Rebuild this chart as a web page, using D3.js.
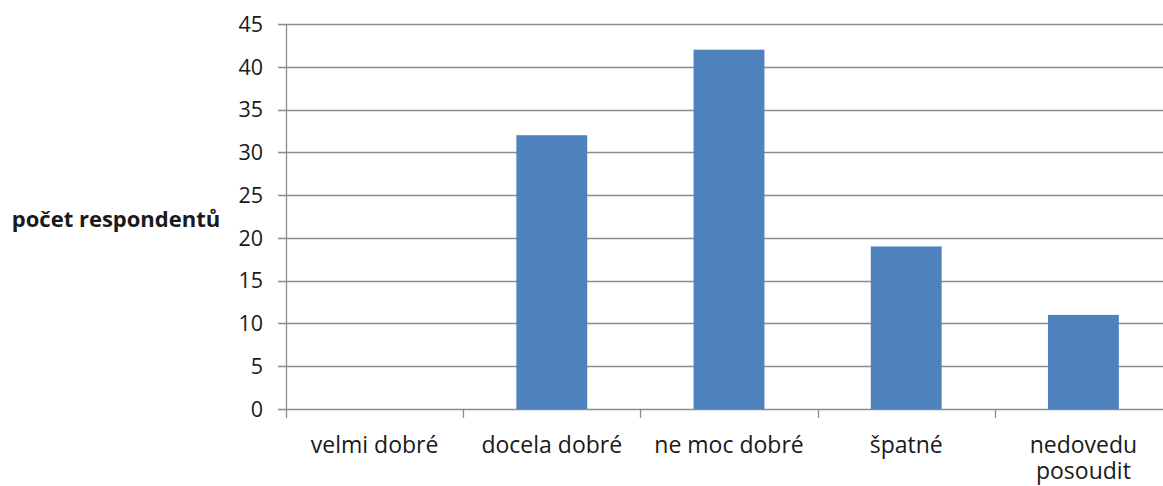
<!DOCTYPE html>
<html>
<head>
<meta charset="utf-8">
<script src="https://cdn.jsdelivr.net/npm/d3@7"></script>
<style>
  html, body { margin: 0; padding: 0; background: #fff; overflow: hidden; }
  svg { display: block; }
  text { font-family: "Open Sans", "DejaVu Sans", sans-serif; fill: #1a1a1a; }
</style>
</head>
<body>
<svg id="chart" width="1163" height="486"></svg>
<script>
const categories = ["velmi dobré", "docela dobré", "ne moc dobré", "špatné", "nedovedu posoudit"];
const values = [0, 32, 42, 19, 11];
const yTicks = [0, 5, 10, 15, 20, 25, 30, 35, 40, 45];
const yTitle = "počet respondentů";

(function () {
const svg = d3.select("#chart");
const W = 1163;
const mLeft = 286, mRight = 1172, mTop = 24, mBottom = 409;

const x = d3.scaleBand().domain(categories).range([mLeft, mRight]).paddingInner(0.6).paddingOuter(0.3);
const y = d3.scaleLinear().domain([0, 45]).range([mBottom, mTop]);

const gridColor = "#8c8c8c";

// gridlines
svg.append("g").selectAll("line").data(yTicks).join("line")
  .attr("x1", mLeft - 8).attr("x2", W)
  .attr("y1", d => Math.round(y(d)) + 0.5).attr("y2", d => Math.round(y(d)) + 0.5)
  .attr("stroke", gridColor).attr("stroke-width", 1.3);

// y labels
svg.append("g").selectAll("text").data(yTicks).join("text")
  .attr("x", 263).attr("y", d => y(d))
  .attr("dy", "0.36em")
  .attr("text-anchor", "end")
  .attr("font-size", 21.5)
  .text(d => d);

// bars
svg.append("g").selectAll("rect").data(categories).join("rect")
  .attr("x", d => x(d))
  .attr("width", x.bandwidth())
  .attr("y", (d, i) => y(values[i]))
  .attr("height", (d, i) => y(0) - y(values[i]))
  .attr("fill", "#4f81bd");

// y axis line
svg.append("line")
  .attr("x1", mLeft + 0.5).attr("x2", mLeft + 0.5)
  .attr("y1", mTop).attr("y2", mBottom + 1)
  .attr("stroke", gridColor).attr("stroke-width", 1.3);

// category ticks at band boundaries
const step = x.step();
const boundaries = categories.map(c => x(c) - step * 0.3);
boundaries.push(x(categories[categories.length - 1]) + x.bandwidth() + step * 0.3);
svg.append("g").selectAll("line").data(boundaries).join("line")
  .attr("x1", d => Math.round(d) + 0.5).attr("x2", d => Math.round(d) + 0.5)
  .attr("y1", mBottom).attr("y2", mBottom + 9)
  .attr("stroke", gridColor).attr("stroke-width", 1.3);

// category labels with wrapping
const labels = svg.append("g").selectAll("text").data(categories).join("text")
  .attr("x", d => x(d) + x.bandwidth() / 2)
  .attr("y", 453)
  .attr("text-anchor", "middle")
  .attr("font-size", 23)
  .text(d => d);

labels.each(function(d) {
  const t = d3.select(this);
  const maxW = step - 14;
  if (this.getComputedTextLength() > maxW) {
    const words = d.split(" ");
    t.text(null);
    let line = [];
    let tspan = t.append("tspan").attr("x", t.attr("x")).attr("dy", 0);
    for (const w of words) {
      line.push(w);
      tspan.text(line.join(" "));
      if (tspan.node().getComputedTextLength() > maxW && line.length > 1) {
        line.pop();
        tspan.text(line.join(" "));
        line = [w];
        tspan = t.append("tspan").attr("x", t.attr("x")).attr("dy", 26).text(w);
      }
    }
  }
});

// y axis title
svg.append("text")
  .attr("x", 116).attr("y", 227)
  .attr("text-anchor", "middle")
  .attr("font-size", 22)
  .attr("font-weight", "bold")
  .text(yTitle);
})();
</script>
</body>
</html>
